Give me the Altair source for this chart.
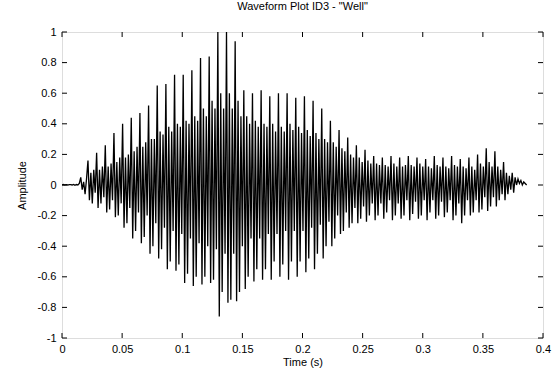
import altair as alt
import pandas as pd

# Waveform amplitudes, 6 samples per row, sample interval DT
DT = 0.0012
rows = [
    [0.0, 0.003, 0.0, 0.002, 0.0, 0.003],
    [0.002, 0.0, 0.004, -0.002, 0.003, 0.0],
    [0.01, 0.05, -0.03, 0.02, -0.06, 0.04],
    [0.16, -0.10, 0.08, -0.12, 0.10, -0.05],
    [0.21, -0.15, 0.10, -0.12, 0.12, -0.08],
    [0.26, -0.18, 0.12, -0.16, 0.14, -0.10],
    [0.34, -0.21, 0.15, -0.20, 0.18, -0.12],
    [0.40, -0.28, 0.18, -0.25, 0.20, -0.15],
    [0.44, -0.35, 0.22, -0.30, 0.25, -0.18],
    [0.47, -0.38, 0.25, -0.34, 0.28, -0.20],
    [0.52, -0.45, 0.30, -0.40, 0.30, -0.25],
    [0.65, -0.48, 0.35, -0.42, 0.33, -0.28],
    [0.66, -0.55, 0.38, -0.50, 0.35, -0.30],
    [0.72, -0.56, 0.40, -0.52, 0.38, -0.32],
    [0.72, -0.64, 0.42, -0.58, 0.40, -0.35],
    [0.75, -0.66, 0.45, -0.60, 0.42, -0.38],
    [0.83, -0.65, 0.50, -0.60, 0.45, -0.40],
    [0.84, -0.64, 0.55, -0.62, 0.50, -0.42],
    [1.00, -0.86, 0.60, -0.70, 0.50, -0.45],
    [1.00, -0.77, 0.60, -0.75, 0.50, -0.45],
    [0.94, -0.76, 0.55, -0.70, 0.45, -0.40],
    [0.62, -0.68, 0.45, -0.60, 0.40, -0.35],
    [0.60, -0.63, 0.42, -0.55, 0.38, -0.35],
    [0.62, -0.62, 0.40, -0.55, 0.38, -0.32],
    [0.58, -0.62, 0.40, -0.50, 0.35, -0.32],
    [0.60, -0.60, 0.38, -0.52, 0.35, -0.30],
    [0.60, -0.62, 0.40, -0.50, 0.36, -0.30],
    [0.57, -0.60, 0.38, -0.50, 0.34, -0.30],
    [0.58, -0.57, 0.36, -0.48, 0.32, -0.28],
    [0.55, -0.55, 0.34, -0.45, 0.30, -0.26],
    [0.50, -0.48, 0.30, -0.40, 0.28, -0.24],
    [0.42, -0.40, 0.28, -0.35, 0.25, -0.20],
    [0.36, -0.32, 0.24, -0.30, 0.22, -0.18],
    [0.31, -0.28, 0.20, -0.25, 0.18, -0.15],
    [0.26, -0.25, 0.18, -0.22, 0.15, -0.14],
    [0.23, -0.24, 0.16, -0.20, 0.14, -0.12],
    [0.19, -0.23, 0.14, -0.20, 0.13, -0.12],
    [0.18, -0.22, 0.13, -0.18, 0.12, -0.10],
    [0.19, -0.23, 0.14, -0.20, 0.12, -0.12],
    [0.18, -0.22, 0.12, -0.20, 0.13, -0.10],
    [0.19, -0.23, 0.13, -0.19, 0.12, -0.11],
    [0.18, -0.22, 0.14, -0.20, 0.12, -0.10],
    [0.17, -0.23, 0.12, -0.18, 0.11, -0.10],
    [0.19, -0.22, 0.13, -0.20, 0.12, -0.11],
    [0.18, -0.21, 0.12, -0.18, 0.11, -0.10],
    [0.19, -0.23, 0.13, -0.20, 0.12, -0.12],
    [0.17, -0.25, 0.12, -0.20, 0.11, -0.10],
    [0.18, -0.20, 0.12, -0.18, 0.10, -0.10],
    [0.20, -0.18, 0.14, -0.16, 0.12, -0.08],
    [0.24, -0.17, 0.15, -0.14, 0.12, -0.08],
    [0.22, -0.14, 0.12, -0.10, 0.10, -0.06],
    [0.15, -0.10, 0.08, -0.06, 0.06, -0.03],
    [0.08, -0.05, 0.05, 0.0, 0.04, 0.01],
    [0.03, 0.0, 0.02, 0.01, 0.0],
]
amps = [v for r in rows for v in r]
times = [i * DT for i in range(len(amps))]

x_ticks = [0, 0.05, 0.1, 0.15, 0.2, 0.25, 0.3, 0.35, 0.4]
y_ticks = [-1, -0.8, -0.6, -0.4, -0.2, 0, 0.2, 0.4, 0.6, 0.8, 1]

W, H = 481, 306
FONT = "Liberation Sans"

wave = pd.DataFrame({"t": times, "a": amps})
xt = pd.DataFrame({"t": x_ticks})
yt = pd.DataFrame({"a": y_ticks})

xscale = alt.Scale(domain=[0, 0.4], nice=False, zero=False)
yscale = alt.Scale(domain=[-1, 1], nice=False, zero=False)

common = dict(ticks=False, domain=False, grid=False, labelOverlap=False,
              labelFlush=False, labelBound=False,
              labelFont=FONT, labelFontSize=11, labelColor="black",
              titleFont=FONT, titleFontSize=11, titleColor="black",
              titleFontWeight="normal")
xaxis = alt.Axis(values=x_ticks, labelExpr="'' + datum.value",
                 labelPadding=5, titlePadding=2, **common)
yaxis = alt.Axis(values=y_ticks, labelExpr="'' + datum.value",
                 labelPadding=6, titlePadding=10, **common)

X = lambda: alt.X("t:Q", scale=xscale, title="Time (s)", axis=xaxis)
Y = lambda: alt.Y("a:Q", scale=yscale, title="Amplitude", axis=yaxis)

line = alt.Chart(wave).mark_line(color="black", strokeWidth=1.3, clip=True).encode(
    x=X(), y=Y())

bt = alt.Chart(xt).mark_rule(color="black").encode(
    x=X(), y=alt.value(H), y2=alt.value(H - 5))
tt = alt.Chart(xt).mark_rule(color="black").encode(
    x=X(), y=alt.value(0), y2=alt.value(5))
lt = alt.Chart(yt).mark_rule(color="black").encode(
    y=Y(), x=alt.value(0), x2=alt.value(5))
rt = alt.Chart(yt).mark_rule(color="black").encode(
    y=Y(), x=alt.value(W), x2=alt.value(W - 5))

chart = alt.layer(line, bt, tt, lt, rt).properties(
    width=W, height=H,
    title=alt.TitleParams('Waveform Plot ID3 - "Well"', font=FONT, fontSize=11,
                          fontWeight="normal", color="black", anchor="middle", offset=14),
    autosize=alt.AutoSizeParams(type="none"),
    padding={"left": 62, "top": 32, "right": 17, "bottom": 35},
).configure_view(stroke="black", strokeWidth=1.5).configure_axis(
    labelOverlap=False
).configure(background="white")

chart.save("out.html", embed_options={"renderer": "svg", "actions": False})
